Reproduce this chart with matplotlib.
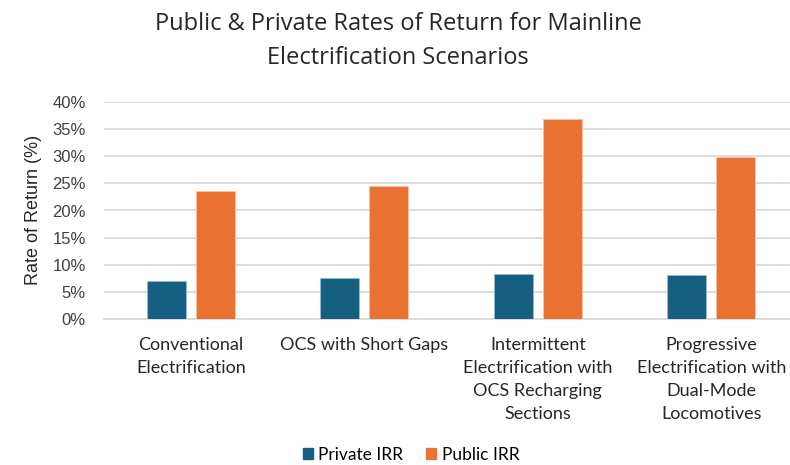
import numpy as np
import matplotlib
matplotlib.use("Agg")
import matplotlib.pyplot as plt
from matplotlib.ticker import PercentFormatter
from matplotlib.patches import Patch

# datos
escenarios = ["Conventional\nElectrification", "OCS with Short Gaps",
              "Intermittent\nElectrification with\nOCS Recharging\nSections",
              "Progressive\nElectrification with\nDual-Mode\nLocomotives"]
privado = [7.0, 7.6, 8.3, 8.1]
publico = [23.5, 24.5, 36.8, 29.9]
series = ["Private IRR", "Public IRR"]
colores = ["#156082", "#E97132"]

angosta = ["Lato", "DejaVu Sans"]
normal = ["Liberation Sans", "DejaVu Sans"]

fig = plt.figure(figsize=(7.9, 4.65), dpi=100)
ax = fig.add_axes([104 / 790, 1 - 319.3 / 465, 694 / 790, 217.6 / 465])

x = np.arange(len(escenarios))
ancho = 0.225
ax.bar(x - 0.141, privado, ancho, color=colores[0], edgecolor="#9fb8c8", linewidth=0.6, zorder=3)
ax.bar(x + 0.141, publico, ancho, color=colores[1], edgecolor="#f5c2a6", linewidth=0.6, zorder=3)

ax.set_xlim(-0.5, len(escenarios) - 0.5)
ax.set_ylim(0, 40)
ax.set_yticks(np.arange(0, 41, 5))
ax.yaxis.set_major_formatter(PercentFormatter(xmax=100, decimals=0))
ax.grid(axis="y", color="#d9d9d9", linewidth=1.3, zorder=0)
for lado in ["top", "right", "left"]:
    ax.spines[lado].set_visible(False)
ax.spines["bottom"].set_color("#d9d9d9")
ax.spines["bottom"].set_linewidth(1.3)
ax.tick_params(axis="both", length=0)
ax.tick_params(axis="y", pad=13, labelsize=12, labelcolor="#404040")
for t in ax.get_yticklabels():
    t.set_family(normal)

ax.set_xticks(x)
ax.set_xticklabels(escenarios, family=angosta, fontsize=13, color="#262626",
                   linespacing=1.53, va="top")
ax.tick_params(axis="x", pad=13)

ax.set_ylabel("Rate of Return (%)", family=normal, fontsize=13, color="#262626", va="center")
ax.yaxis.set_label_coords(34 / 790, 1 - 210 / 465, transform=fig.transFigure)

fig.text(398 / 790, 1 - 41 / 465, "Public & Private Rates of Return for Mainline\nElectrification Scenarios",
         ha="center", va="center", fontsize=17, family=["Open Sans", "DejaVu Sans"],
         color="#262626", linespacing=1.6)

manijas = [Patch(color=c) for c in colores]
fig.legend(manijas, series, loc="center", bbox_to_anchor=(411 / 790, 1 - 455 / 465),
           ncol=2, frameon=False, prop={"family": angosta, "size": 12.5},
           handlelength=0.6, handleheight=0.6, handletextpad=0.3, columnspacing=1.3)

fig.savefig("out.png", dpi=100)
